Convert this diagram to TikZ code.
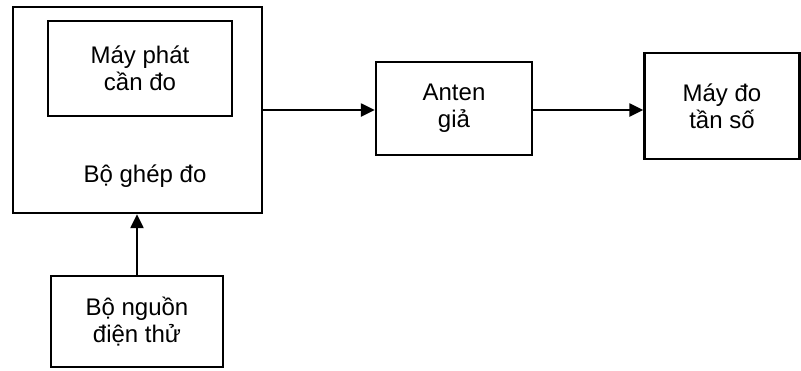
\documentclass[tikz,border=0pt]{standalone}
\usepackage{fontspec}
\setmainfont{Liberation Sans}
\usetikzlibrary{arrows.meta}
\begin{document}
\begin{tikzpicture}[x=1pt,y=1pt,
  blk/.style={draw=black,line width=2.4pt,inner sep=0pt,align=center,
    font=\fontsize{24}{27}\selectfont},
  lbl/.style={inner sep=0pt,align=center,font=\fontsize{24}{27}\selectfont},
  conn/.style={line width=2.4pt,-{Triangle[length=14pt,width=13pt]}}]
\useasboundingbox (0,0) rectangle (801,-370);
\node[blk,minimum width=249pt,minimum height=206pt] (big) at (137.5,-110) {};
\node[blk,minimum width=184pt,minimum height=95pt] (gen) at (140,-68.5) {Máy phát\\cần đo};
\node[lbl] (bglabel) at (145,-176) {Bộ ghép đo};
\node[blk,minimum width=172pt,minimum height=91pt] (src) at (137,-321.5) {Bộ nguồn\\điện thử};
\node[blk,minimum width=156pt,minimum height=93pt] (ant) at (454,-108.5) {Anten\\giả};
\node[blk,minimum width=155pt,minimum height=106pt] (meas) at (722,-106) {Máy đo\\tần số};
\draw[conn] (src.north) -- (src.north |- big.south);
\draw[conn] (big.east) -- (big.east -| ant.west);
\draw[conn] (ant.east |- big.east) -- (big.east -| meas.west);
\end{tikzpicture}
\end{document}
